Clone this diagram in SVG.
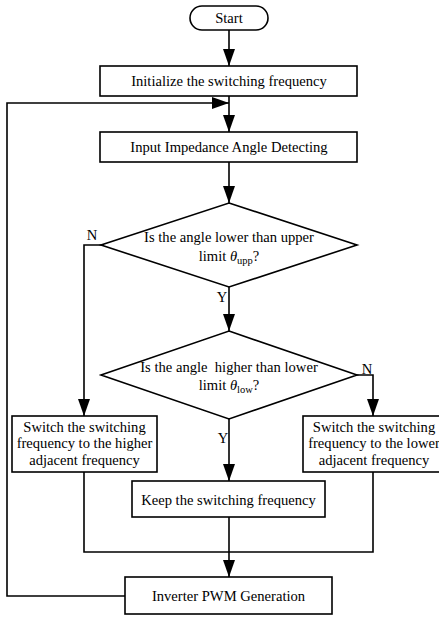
<svg xmlns="http://www.w3.org/2000/svg" width="439" height="618" viewBox="0 0 439 618">
<defs>
<style>
.n{fill:#fff;stroke:#000;stroke-width:1.6}
.c{fill:none;stroke:#000;stroke-width:1.6}
text{font-family:"Liberation Serif","Times New Roman",serif;font-size:14.6px;fill:#000;text-anchor:middle}
.lb{font-size:14.6px}
.it{font-style:italic}
.sb{font-size:10.5px}
</style>
<marker id="ah" markerUnits="userSpaceOnUse" markerWidth="17" markerHeight="12" refX="17" refY="6" orient="auto">
<path d="M0,0 L17,6 L0,12 z" fill="#000"/>
</marker>
</defs>
<rect width="439" height="618" fill="#fff"/>
<g id="connectors">
<path class="c" d="M229,30 V66" marker-end="url(#ah)"/>
<path class="c" d="M229,96 V132" marker-end="url(#ah)"/>
<path class="c" d="M125,596 H7 V103 H229" marker-end="url(#ah)"/>
<path class="c" d="M229,162 V203" marker-end="url(#ah)"/>
<path class="c" d="M101,245 H84 V416" marker-end="url(#ah)"/>
<path class="c" d="M229,287 V331" marker-end="url(#ah)"/>
<path class="c" d="M357,375 H373 V416" marker-end="url(#ah)"/>
<path class="c" d="M229,419 V481" marker-end="url(#ah)"/>
<path class="c" d="M84,472 V552 H373 V472"/>
<path class="c" d="M229,517 V577" marker-end="url(#ah)"/>
<text class="lb" x="92" y="240">N</text>
<text class="lb" x="222" y="302">Y</text>
<text class="lb" x="367" y="374">N</text>
<text class="lb" x="223" y="443">Y</text>
</g>
<g id="start">
<rect class="n" x="190" y="6" width="78" height="24" rx="12"/>
<text x="229" y="23">Start</text>
</g>
<g id="init">
<rect class="n" x="100" y="66" width="257" height="30"/>
<text x="229" y="86">Initialize the switching frequency</text>
</g>
<g id="detect">
<rect class="n" x="100" y="132" width="257" height="30"/>
<text x="229" y="152">Input Impedance Angle Detecting</text>
</g>
<g id="dec1">
<polygon class="n" points="229,203 357,245 229,287 101,245"/>
<text x="229" y="242">Is the angle lower than upper</text>
<text x="229" y="261">limit <tspan class="it">θ</tspan><tspan class="sb" dy="3">upp</tspan><tspan dy="-3">?</tspan></text>
</g>
<g id="dec2">
<polygon class="n" points="229,331 357,375 229,419 101,375"/>
<text x="229" y="372" xml:space="preserve">Is the angle  higher than lower</text>
<text x="229" y="390">limit <tspan class="it">θ</tspan><tspan class="sb" dy="3">low</tspan><tspan dy="-3">?</tspan></text>
</g>
<g id="higher">
<rect class="n" x="12" y="416" width="145" height="56"/>
<text x="84.5" y="432">Switch the switching</text>
<text x="84.5" y="448">frequency to the higher</text>
<text x="84.5" y="465">adjacent frequency</text>
</g>
<g id="lower">
<rect class="n" x="303" y="416" width="142" height="56"/>
<text x="374" y="432">Switch the switching</text>
<text x="374" y="448">frequency to the lower</text>
<text x="374" y="465">adjacent frequency</text>
</g>
<g id="keep">
<rect class="n" x="132" y="481" width="193" height="36"/>
<text x="228.5" y="505">Keep the switching frequency</text>
</g>
<g id="pwm">
<rect class="n" x="125" y="577" width="207" height="37"/>
<text x="228.5" y="601">Inverter PWM Generation</text>
</g>
</svg>
